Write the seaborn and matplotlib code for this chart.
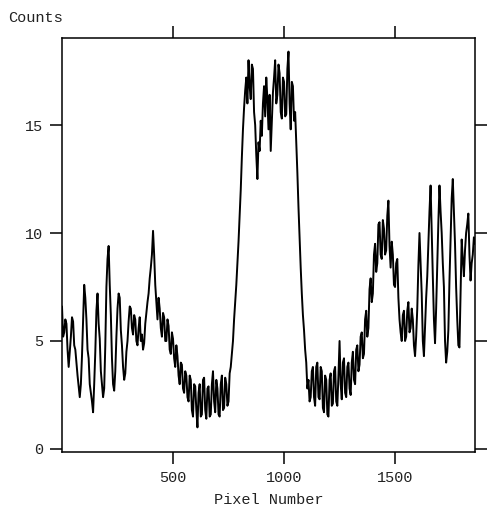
import numpy as np
import pandas as pd
import matplotlib
matplotlib.use("Agg")
import matplotlib.pyplot as plt
import seaborn as sns

pixel_step = 5
counts = [
    6.6, 5.2, 5.4, 6.0, 5.8, 4.6, 3.8, 4.5, 5.2, 6.1,
    5.9, 4.8, 4.6, 4.0, 3.4, 2.9, 2.4, 3.0, 4.3, 6.0,
    7.6, 7.0, 6.0, 4.6, 4.2, 3.0, 2.6, 2.2, 1.7, 3.0,
    4.5, 6.4, 7.2, 5.8, 5.1, 3.6, 3.0, 2.4, 2.8, 4.8,
    7.5, 8.8, 9.4, 7.6, 6.2, 4.2, 3.0, 2.7, 3.6, 5.2,
    6.5, 7.2, 7.0, 5.5, 4.8, 3.8, 3.2, 3.5, 4.5, 5.0,
    5.9, 6.6, 6.5, 5.6, 5.3, 6.2, 6.0, 5.0, 4.8, 5.6,
    6.1, 5.0, 5.3, 4.6, 4.9, 5.8, 6.3, 6.8, 7.2, 7.9,
    8.4, 9.0, 10.1, 9.0, 7.6, 6.8, 6.0, 7.0, 6.5, 5.6,
    5.2, 6.3, 6.1, 5.0, 5.0, 6.0, 5.7, 4.6, 4.4, 5.4,
    5.1, 4.2, 3.8, 4.8, 4.3, 3.4, 3.0, 4.0, 3.9, 2.8,
    2.6, 3.6, 3.4, 2.4, 2.2, 3.4, 3.2, 1.8, 1.5, 3.0,
    2.9, 1.8, 1.0, 2.6, 3.0, 1.5, 1.6, 3.2, 3.3, 1.8,
    1.4, 2.8, 2.9, 1.5, 1.6, 3.0, 3.6, 2.2, 1.7, 3.2,
    2.8, 1.6, 1.5, 3.0, 3.4, 1.8, 1.9, 3.3, 3.0, 2.0,
    2.2, 3.5, 3.8, 4.4, 5.0, 6.0, 6.8, 7.6, 8.6, 9.6,
    10.8, 12.0, 13.5, 14.8, 15.8, 16.6, 17.2, 16.0, 18.0, 16.8,
    16.2, 17.8, 17.6, 15.6, 15.0, 13.6, 12.5, 14.2, 13.8, 15.2,
    14.5, 16.0, 16.8, 15.4, 17.2, 16.2, 14.8, 16.4, 13.8, 15.2,
    16.5, 17.2, 18.0, 16.0, 16.4, 17.8, 17.4, 15.6, 15.3, 17.2,
    17.0, 15.4, 15.5, 17.6, 18.4, 16.0, 14.8, 17.0, 16.8, 15.2,
    15.6, 14.2, 12.8, 11.2, 9.8, 8.4, 7.2, 6.2, 5.5, 4.6,
    4.0, 2.8, 3.2, 2.2, 2.4, 3.6, 3.8, 2.4, 2.0, 3.8,
    4.0, 2.4, 2.3, 3.8, 3.6, 1.9, 1.7, 3.4, 3.2, 1.6,
    1.5, 3.2, 3.5, 2.0, 2.1, 3.6, 3.8, 2.2, 2.0, 3.4,
    5.0, 3.0, 2.3, 4.0, 4.2, 2.6, 2.4, 3.8, 4.0, 2.8,
    2.5, 4.0, 4.5, 3.2, 3.0, 4.6, 4.8, 3.6, 3.9, 5.2,
    5.4, 4.2, 4.4, 6.0, 6.4, 5.2, 5.6, 7.4, 7.9, 6.8,
    7.2, 9.0, 9.5, 8.2, 8.6, 10.4, 10.5, 9.0, 8.8, 10.6,
    10.2, 9.0, 9.2, 10.8, 11.5, 9.4, 8.4, 9.6, 9.0, 7.6,
    7.5, 8.6, 8.8, 7.0, 6.0, 5.4, 5.0, 6.2, 6.4, 5.0,
    5.2, 6.4, 6.8, 5.4, 5.6, 6.5, 6.0, 4.8, 4.3, 5.2,
    6.5, 8.5, 10.0, 8.6, 7.2, 5.0, 4.3, 5.6, 7.0, 8.0,
    9.5, 11.0, 12.2, 10.0, 8.0, 6.0, 4.9, 6.5, 8.5, 10.5,
    12.2, 11.0, 10.0, 8.6, 7.5, 5.0, 4.0, 4.5, 5.5, 7.8,
    9.8, 11.6, 12.5, 11.0, 9.5, 7.5, 6.0, 4.8, 4.7, 7.2,
    9.7, 8.8, 8.0, 9.2, 10.0, 10.4, 10.9, 9.0, 7.8, 8.6,
    9.0, 9.8, 9.5,
]
pixels = [i * pixel_step for i in range(len(counts))]

df = pd.DataFrame({"Pixel Number": pixels, "Counts": counts})

sns.set_style("ticks")
plt.rcParams["font.family"] = ["Liberation Mono", "DejaVu Sans Mono"]

fig = plt.figure(figsize=(4.87, 5.09), dpi=100)
ax = fig.add_axes([62 / 487, 57 / 509, 413 / 487, 414 / 509])

sns.lineplot(data=df, x="Pixel Number", y="Counts", color="black",
             linewidth=1.4, ax=ax)

ax.set_xlim(0, 1860)
ax.set_ylim(-0.14, 19.03)
ax.set_xticks([500, 1000, 1500])
ax.set_yticks([0, 5, 10, 15])

for sp in ax.spines.values():
    sp.set_visible(True)
    sp.set_linewidth(1.1)
    sp.set_color("black")

ax.tick_params(axis="both", which="both", direction="out", length=8.5,
               width=1.1, color="black", labelsize=11, labelcolor="#222222",
               top=True, right=True, labeltop=False, labelright=False, pad=5)

ax.set_ylabel("")
ax.set_xlabel("Pixel Number", fontsize=11, color="#222222", labelpad=6)
fig.text(8 / 487, 1 - 18 / 509, "Counts", ha="left", va="center",
         fontsize=11, color="#222222")

fig.savefig("out.png", dpi=100)
